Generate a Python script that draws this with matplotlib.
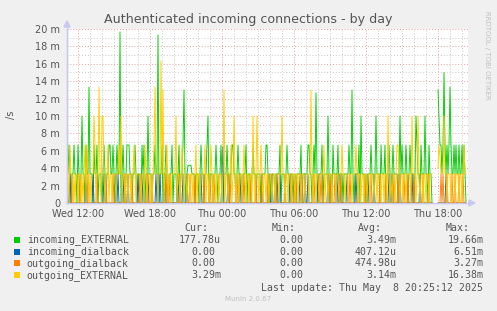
import numpy as np
import pandas as pd
import matplotlib
matplotlib.use("Agg")
import matplotlib.pyplot as plt
import matplotlib.dates as mdates
from matplotlib.ticker import MultipleLocator, FuncFormatter
from matplotlib.patches import Rectangle, Polygon

nan = np.nan

# connections counted per 5 minute slot, starting Wed 2025-05-07 11:05
# one row = 12 slots (one hour)
start = "2025-05-07 11:05"

incoming_external = [
    [1, 1, 2, 1, 0, 1, 1, 2, 1, 1, 0, 2],
    [1, 0, 1, 3, 1, 1, 0, 2, 1, 1, 4, 1],
    [1, 1, 0, 2, 1, 1, 2, 0, 1, 1, 1, 0],
    [1, 2, 1, 0, 1, 1, 2, 2, 1, 1, 2, 1],
    [0, 1, 2, 1, 1, 5.9, 0, 1, 2, 1, 0, 1],
    [2, 2, 2, 1, 1, 0, 1, 1, 2, 1, 0, 1],
    [1, 1, 0, 2, 1, 2, 0, 1, 1, 3, 1, 1],
    [1, 0, 1, 1, 2, 1, 1, 5.8, 0, 1, 1, 2],
    [0, 1, 1, 2, 1, 0, 1, 1, 1, 2, 0, 1],
    [1, 1, 0, 1, 2, 0, 1, 1, 2, 3.9, 1, 0],
    [1, 1.3, 1.3, 1.3, 1.3, 1, 1, 1, 0, 1, 1, 1],
    [0, 1, 2, 1, 1, 0, 1, 1, 2, 3, 0, 1],
    [1, 1, 0, 1, 1, 2, 1, 0, 1, 1, 2, 1],
    [0, 1, 1, 1, 2, 1, 0, 1, 1, 2, 2, 1],
    [1, 0, 1, 2, 1, 1, 1, 0, 1, 1, 1, 2],
    [0, 1, 1, 1, 0, 1, 2, 1, 1, 0, 1, 1],
    [1, 1, 0, 1, 1, 1, 1, 2, 2, 1, 0, 1],
    [0, 1, 1, 1, 0, 1, 1, 1, 1, 2, 0, 1],
    [1, 1, 0, 1, 2, 1, 1, 0, 1, 1, 1, 0],
    [1, 0, 1, 1, 1, 1, 2, 0, 1, 1, 1, 1],
    [1, 2, 2, 1, 1, 0, 1, 2, 1, 3.8, 1, 0],
    [1, 1, 1, 2, 0, 1, 1, 1, 1, 3, 1, 0],
    [1, 0, 2, 1, 1, 1, 1, 2, 0, 1, 1, 1],
    [0, 1, 1, 1, 1, 1, 2, 1, 1, 3.9, 1, 0],
    [1, 1, 1, 1, 2, 0, 3, 1, 1, 1, 0, 1],
    [0, 1, 1, 1, 2, 1, 1, 0, 1, 3, 1, 1],
    [1, 0, 2, 1, 1, 1, 2, 0, 1, 1, 2, 1],
    [0, 1, 2, 1, 1, 1, 1, 0, 1, 3, 1, 2],
    [1, 1, 1, 2, 1, 0, 1, 2, 1, 1, 1, 0],
    [1, 3, 2, 1, 1, 0, 2, 1, 1, 1, 3, 1],
    [1, 0, 2, 1, 1, 0, nan, nan, nan, nan, nan, 3.9],
    [3, 2, 2, 1, 2, 4.5, 2, 1, 2, 1, 2, 4],
    [2, 1, 1, 2, 1, 2, 1, 1, 2, 1, 1, 2],
    [1, 2, 1, 0.05],
]

outgoing_external = [
    [2, 1, 0, 2, 1, 1, 0, 1, 0, 1, 1, 0],
    [1, 1, 0, 1, 0, 1, 2, 0, 2, 1, 0, 1],
    [0, 1, 1, 3, 2, 0, 1, 1, 4, 1, 0, 3],
    [3, 1, 0, 1, 1, 2, 0, 1, 1, 0, 1, 1],
    [1, 0, 1, 1, 2, 1, 3, 0, 1, 1, 0, 1],
    [1, 0, 1, 1, 0, 1, 1, 2, 1, 0, 1, 1],
    [1, 1, 0, 1, 1, 0, 2, 1, 0, 1, 1, 0],
    [1, 0, 1, 2, 4, 1, 1, 0, 1, 1, 4.9, 1],
    [3.9, 0, 1, 1, 2, 0, 1, 1, 0, 1, 1, 1],
    [1, 3, 0, 1, 1, 0, 1, 2, 1, 0, 1, 1],
    [0, 1, 1, 0, 1, 1, 0, 1, 1, 2, 0, 1],
    [1, 0, 1, 1, 1, 1, 2, 0, 1, 1, 0, 1],
    [2, 1, 0, 1, 1, 0, 1, 1, 0, 1, 1, 0],
    [1, 3.9, 0, 1, 1, 0, 1, 1, 2, 0, 1, 3],
    [1, 0, 1, 1, 0, 1, 1, 0, 1, 2, 1, 0],
    [1, 1, 0, 1, 1, 0, 3, 1, 0, 1, 3, 1],
    [0, 1, 2, 1, 0, 1, 1, 0, 1, 1, 0, 1],
    [1, 0, 1, 1, 0, 1, 1, 1, 0, 1, 1, 3],
    [1, 1, 0, 1, 1, 0, 1, 1, 0, 1, 1, 1],
    [0, 1, 1, 0, 1, 1, 0, 1, 1, 1, 0, 1],
    [1, 1, 0, 1, 3.9, 1, 0, 1, 1, 0, 1, 1],
    [0, 1, 1, 1, 1, 2, 0, 1, 1, 0, 1, 1],
    [1, 0, 1, 1, 1, 0, 1, 1, 0, 1, 1, 2],
    [1, 1, 0, 1, 1, 0, 1, 1, 1, 0, 1, 1],
    [1, 2, 1, 0, 1, 1, 0, 1, 1, 0, 1, 1],
    [0, 1, 1, 0, 1, 1, 1, 0, 1, 1, 0, 1],
    [1, 1, 0, 1, 1, 0, 1, 1, 0, 3, 1, 0],
    [1, 0, 1, 1, 0, 1, 2, 2, 1, 0, 1, 1],
    [0, 1, 1, 0, 1, 1, 1, 1, 0, 3, 1, 1],
    [1, 0, 1, 3, 1, 0, 1, 1, 0, 1, 1, 0],
    [1, 1, 0, 1, 1, 1, nan, nan, nan, nan, nan, 1.2],
    [2, 1.6, 1, 1, 1, 3, 1, 1, 0, 1, 1, 1],
    [0, 1, 1, 1, 0, 1, 1, 1, 0, 1, 1, 0],
    [1, 2, 1, 1],
]

# dialback connections are rare: slot numbers that had any, and how many
incoming_dialback_slots = [0, 3, 19, 26, 37, 49, 51, 56, 61, 71, 76, 81, 89, 91, 93,
                           98, 111, 116, 120, 134, 155, 156, 161, 173, 195, 202, 205,
                           210, 213, 223, 233, 238, 241, 251, 261, 270, 273, 280, 289,
                           301, 307, 322, 325, 333, 345, 353, 379]
incoming_dialback_counts = [1] * 21 + [1.95] + [1] * 25
outgoing_dialback_slots = [5, 13, 21, 30, 39, 46, 58, 65, 73, 80, 85, 99, 103, 113,
                           123, 128, 137, 143, 147, 163, 171, 177, 183, 189, 195, 201,
                           209, 218, 225, 229, 235, 247, 253, 255, 263, 268, 274, 283,
                           291, 298, 304, 313, 319, 327, 331, 337, 341, 347, 356, 362,
                           374, 376, 380, 385, 388, 392, 396]

names = ["incoming_EXTERNAL", "incoming_dialback", "outgoing_dialback", "outgoing_EXTERNAL"]
colors = ["#00CC00", "#0066B3", "#FF8000", "#FFCC00"]
cur = ["177.78u", "0.00", "0.00", "3.29m"]
mins = ["0.00", "0.00", "0.00", "0.00"]
avgs = ["3.49m", "407.12u", "474.98u", "3.14m"]
maxs = ["19.66m", "6.51m", "3.27m", "16.38m"]

per_sec = 1000.0 / 300  # one connection per 5 min -> milli per second

green = np.array(sum(incoming_external, []), dtype=float) * per_sec
yellow = np.array(sum(outgoing_external, []), dtype=float) * per_sec
n = len(green)
times = pd.date_range(start, periods=n, freq="5min")
gap = np.isnan(green)

blue = np.zeros(n)
blue[incoming_dialback_slots] = np.array(incoming_dialback_counts) * per_sec
blue[gap] = nan
orange = np.zeros(n)
orange[outgoing_dialback_slots] = per_sec
orange[gap] = nan

W, H = 497, 311
fig = plt.figure(figsize=(W / 100, H / 100), dpi=100, facecolor="#F0F0F0")
ax = fig.add_axes([67 / W, 1 - 203 / H, 401 / W, 174 / H])
ax.set_facecolor("white")

for serie, c in zip([green, blue, orange, yellow], colors):
    ax.plot(times, serie, color=c, lw=0.65, zorder=3)

ax.set_xlim(pd.Timestamp("2025-05-07 11:05"), pd.Timestamp("2025-05-08 20:30"))
ax.set_ylim(0, 20)

ax.xaxis.set_major_locator(mdates.HourLocator(byhour=[0, 6, 12, 18]))
ax.xaxis.set_minor_locator(mdates.HourLocator())
ax.xaxis.set_major_formatter(mdates.DateFormatter("%a %H:%M"))
ax.yaxis.set_major_locator(MultipleLocator(2))
ax.yaxis.set_minor_locator(MultipleLocator(1))
ax.yaxis.set_major_formatter(FuncFormatter(lambda v, p: "0" if v == 0 else "%d m" % v))

ax.grid(which="minor", color="#C8C8C8", lw=0.7, linestyle=(0, (1, 2)), zorder=1)
ax.grid(which="major", color="#E8A0A0", lw=0.7, linestyle=(0, (1, 2)), zorder=1)
ax.set_axisbelow(True)
ax.tick_params(which="both", length=0, labelsize=7, labelcolor="#555555")
ax.tick_params(axis="y", pad=5)
ax.tick_params(axis="x", pad=4)

for s in ["top", "right"]:
    ax.spines[s].set_visible(False)
for s in ["left", "bottom"]:
    ax.spines[s].set_color("#C8C8F0")
    ax.spines[s].set_linewidth(1)


def fx(x):
    return x / W


def fy(y):
    return 1 - y / H


# axis arrows
fig.add_artist(plt.Line2D([fx(67), fx(67)], [fy(203), fy(24)], color="#C8C8F0", lw=1))
fig.add_artist(Polygon([[fx(64), fy(27)], [fx(70), fy(27)], [fx(67), fy(21)]],
                       closed=True, color="#C8C8F0"))
fig.add_artist(plt.Line2D([fx(67), fx(470)], [fy(203), fy(203)], color="#C8C8F0", lw=1, zorder=0))
fig.add_artist(Polygon([[fx(469), fy(200)], [fx(469), fy(206)], [fx(475), fy(203)]],
                       closed=True, color="#C8C8F0"))

fig.text(fx(248.5), fy(20), "Authenticated incoming connections - by day",
         ha="center", va="center", fontsize=9.1, color="#555555")
fig.text(fx(11), fy(115), "/s", rotation=90, ha="center", va="center",
         fontsize=7, color="#555555")
fig.text(fx(487), fy(55), "RRDTOOL / TOBI OETIKER", rotation=270, ha="center",
         va="center", fontsize=5, color="#C0C0C0")

mono = dict(family="DejaVu Sans Mono", fontsize=7.1, color="#555555", va="center")
fig.text(fx(208), fy(228), "Cur:", ha="right", **mono)
fig.text(fx(296), fy(228), "Min:", ha="right", **mono)
fig.text(fx(382), fy(228), "Avg:", ha="right", **mono)
fig.text(fx(470), fy(228), "Max:", ha="right", **mono)

cw = 5.92
rows_y = [239.7, 251.7, 263.4, 275.2]
for i in range(4):
    y = rows_y[i]
    fig.add_artist(Rectangle((fx(14), fy(y + 3)), 6 / W, 6 / H, facecolor=colors[i],
                             edgecolor="none"))
    fig.text(fx(26.7), fy(y), names[i], ha="left", **mono)
    for txt, right in [(cur[i], 221), (mins[i], 309), (avgs[i], 396.7), (maxs[i], 483.3)]:
        r = right if txt[-1] in "mu" else right - cw
        fig.text(fx(r), fy(y), txt, ha="right", **mono)

fig.text(fx(482.7), fy(288), "Last update: Thu May  8 20:25:12 2025", ha="right", **mono)
fig.text(fx(248), fy(299), "Munin 2.0.67", ha="center", va="center", fontsize=5,
         color="#C0C0C0")

fig.savefig("out.png", dpi=100, facecolor=fig.get_facecolor())
